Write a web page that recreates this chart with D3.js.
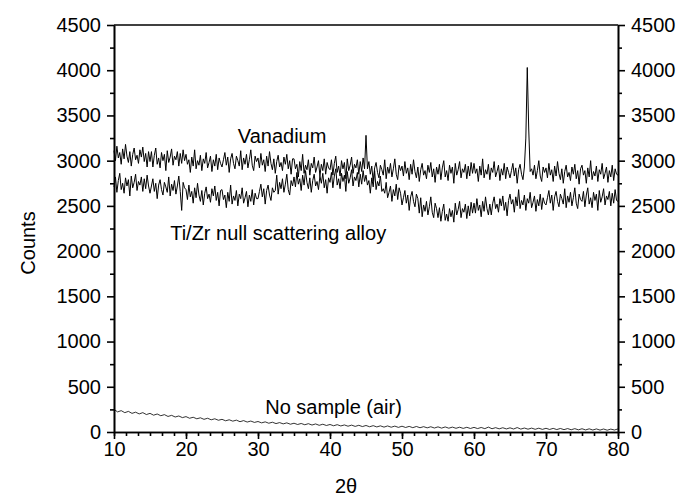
<!DOCTYPE html>
<html>
<head>
<meta charset="utf-8">
<script src="https://cdn.jsdelivr.net/npm/d3@7"></script>
<style>
  body { margin: 0; background: #fff; }
  svg text { font-family: "Liberation Sans", Arial, sans-serif; fill: #000; }
</style>
</head>
<body>
<div id="chart"></div>
<script>
// 2theta grid: sample scans every 0.2 deg, air scan every 0.5 deg, all from 10 deg
var xStart = 10, xStep = 0.2, airStep = 0.5;

var vanadium = [
  3110, 3000, 3160, 3030, 3090, 2960, 3130, 3020, 3180, 3050, 2980, 3100, 2940, 3070, 3140, 3010, 3060, 2970, 3120, 3040, 3150, 2990, 3080, 2930, 3100,
  2990, 3100, 2930, 3060, 3140, 2960, 3030, 2920, 3090, 3000, 3070, 2890, 3110, 2980, 3040, 3130, 2950, 3050, 3010, 3100, 2940, 3080, 2970, 3120, 3000,
  3070, 2960, 3010, 2870, 3040, 2940, 3120, 2910, 3000, 2950, 3060, 2890, 3020, 2970, 3090, 2920, 2980, 3050, 2880, 3010, 2940, 3070, 2900, 3030, 2970,
  2930, 3010, 3090, 2950, 3040, 2870, 3020, 3080, 2970, 2910, 3050, 3000, 2940, 3110, 2900, 3030, 2960, 3070, 2920, 3010, 3120, 2950, 2890, 3050, 2990,
  3030, 2920, 3080, 2950, 3010, 2880, 3050, 2940, 3100, 2970, 2900, 3020, 2860, 2990, 3060, 2930, 2980, 2890, 3040, 2960, 3070, 2910, 3000, 2850, 3020,
  3020, 2910, 2960, 2820, 2990, 2890, 3070, 2860, 2950, 2900, 3010, 2840, 2970, 2920, 3040, 2870, 2930, 3000, 2830, 2960, 2890, 3020, 2850, 2980, 2920,
  2900, 3010, 2840, 2970, 3050, 2870, 2940, 2830, 3000, 2910, 2980, 2800, 3020, 2890, 2950, 3040, 2860, 2960, 2920, 3010, 2850, 2990, 2880, 3030, 2910,
  3280, 2910, 2990, 2850, 2940, 2770, 2920, 2980, 2870, 2810, 2950, 2900, 2840, 3010, 2800, 2930, 2860, 2970, 2820, 2910, 3020, 2850, 2790, 2950, 2890,
  2940, 2830, 2990, 2860, 2920, 2790, 2960, 2850, 3010, 2880, 2810, 2930, 2770, 2900, 2970, 2840, 2890, 2800, 2950, 2870, 2980, 2820, 2910, 2760, 2930,
  2850, 2960, 2790, 2920, 3000, 2820, 2890, 2780, 2950, 2860, 2930, 2750, 2970, 2840, 2900, 2990, 2810, 2910, 2870, 2960, 2800, 2940, 2830, 2980, 2860,
  2970, 2860, 2910, 2770, 2940, 2840, 3020, 2810, 2900, 2850, 2960, 2790, 2920, 2870, 2990, 2820, 2880, 2950, 2780, 2910, 2840, 2970, 2800, 2930, 2870,
  2810, 2890, 2970, 2830, 2920, 2750, 2900, 2960, 2850, 2790, 2930, 3250, 4030, 3350, 2880, 2910, 2840, 2950, 2800, 2890, 3000, 2830, 2770, 2930, 2870,
  2920, 2810, 2970, 2840, 2900, 2770, 2940, 2830, 2990, 2860, 2790, 2910, 2750, 2880, 2950, 2820, 2870, 2780, 2930, 2850, 2960, 2800, 2890, 2740, 2910,
  2950, 2840, 2890, 2750, 2920, 2820, 3000, 2790, 2880, 2830, 2940, 2770, 2900, 2850, 2970, 2800, 2860, 2930, 2760, 2890, 2820, 2950, 2780, 2910, 2850,
  2840
];

var tizr = [
  2710, 2820, 2650, 2780, 2860, 2680, 2750, 2640, 2810, 2720, 2790, 2610, 2830, 2700, 2760, 2850, 2670, 2770, 2730, 2820, 2660, 2800, 2690, 2840, 2720,
  2640, 2720, 2800, 2660, 2750, 2580, 2730, 2790, 2680, 2620, 2760, 2710, 2650, 2820, 2610, 2740, 2670, 2780, 2630, 2720, 2830, 2660, 2450, 2760, 2700,
  2680, 2570, 2730, 2600, 2660, 2530, 2700, 2590, 2750, 2620, 2550, 2670, 2510, 2640, 2710, 2580, 2630, 2540, 2690, 2610, 2720, 2560, 2650, 2500, 2670,
  2680, 2570, 2620, 2480, 2650, 2550, 2730, 2520, 2610, 2560, 2670, 2500, 2630, 2580, 2700, 2530, 2590, 2660, 2490, 2620, 2550, 2680, 2510, 2640, 2580,
  2580, 2660, 2740, 2600, 2690, 2520, 2670, 2730, 2620, 2560, 2700, 2650, 2670, 2840, 2630, 2760, 2690, 2800, 2650, 2740, 2850, 2680, 2620, 2780, 2720,
  2820, 2710, 2870, 2740, 2800, 2670, 2840, 2730, 2890, 2760, 2690, 2810, 2650, 2780, 2850, 2720, 2770, 2680, 2830, 2750, 2860, 2700, 2790, 2640, 2810,
  2760, 2870, 2700, 2830, 2910, 2730, 2800, 2690, 2860, 2770, 2840, 2660, 2880, 2750, 2810, 2900, 2720, 2820, 2780, 2870, 2710, 2850, 2740, 2890, 2770,
  2840, 2730, 2780, 2640, 2810, 2710, 2890, 2680, 2770, 2720, 2830, 2660, 2690, 2640, 2760, 2590, 2650, 2720, 2550, 2680, 2610, 2740, 2570, 2700, 2640,
  2510, 2590, 2670, 2530, 2620, 2450, 2600, 2660, 2550, 2490, 2630, 2580, 2420, 2590, 2380, 2510, 2440, 2550, 2400, 2490, 2600, 2430, 2370, 2530, 2470,
  2370, 2480, 2330, 2440, 2520, 2340, 2410, 2330, 2470, 2380, 2450, 2320, 2530, 2400, 2460, 2550, 2370, 2470, 2430, 2520, 2360, 2500, 2390, 2540, 2420,
  2530, 2420, 2580, 2450, 2510, 2380, 2550, 2440, 2600, 2470, 2400, 2520, 2400, 2530, 2600, 2470, 2520, 2430, 2580, 2500, 2610, 2450, 2540, 2390, 2560,
  2630, 2520, 2570, 2430, 2600, 2500, 2680, 2470, 2560, 2510, 2620, 2450, 2580, 2530, 2650, 2480, 2540, 2610, 2440, 2570, 2500, 2630, 2460, 2590, 2530,
  2510, 2590, 2670, 2530, 2620, 2450, 2600, 2660, 2550, 2490, 2630, 2580, 2520, 2690, 2480, 2610, 2540, 2650, 2500, 2590, 2700, 2530, 2470, 2630, 2570,
  2550, 2660, 2490, 2620, 2700, 2520, 2590, 2480, 2650, 2560, 2630, 2450, 2670, 2540, 2600, 2690, 2510, 2610, 2570, 2660, 2500, 2640, 2530, 2680, 2560,
  2550
];

var air = [
  250, 222, 236, 214, 228, 206, 219, 200, 214, 193,
  206, 186, 199, 180, 192, 172, 184, 166, 177, 159,
  170, 152, 163, 146, 157, 140, 152, 135, 146, 130,
  140, 124, 135, 120, 131, 114, 126, 110, 121, 106,
  116, 101, 112, 97, 108, 93, 104, 90, 101, 86,
  97, 83, 94, 80, 92, 77, 89, 74, 86, 72,
  83, 69, 81, 67, 78, 64, 76, 62, 74, 60,
  72, 58, 70, 56, 68, 54, 67, 53, 65, 51,
  64, 50, 62, 48, 61, 47, 59, 46, 58, 44,
  57, 43, 56, 42, 54, 41, 53, 40, 52, 39,
  51, 38, 50, 37, 54, 36, 48, 35, 47, 34,
  46, 33, 49, 32, 44, 31, 43, 30, 42, 29,
  41, 28, 40, 27, 39, 26, 38, 25, 37, 24,
  36, 23, 35, 22, 34, 21, 33, 20, 32, 22,
  34
];

var xTicks = [10, 20, 30, 40, 50, 60, 70, 80];
var yTicks = [0, 500, 1000, 1500, 2000, 2500, 3000, 3500, 4000, 4500];

// curve labels: text and anchor in data units (left end of the baseline)
var labelText = ["Vanadium", "Ti/Zr null scattering alloy", "No sample (air)"];
var labelX = [27.2, 17.8, 31.0];
var labelY = [3200, 2120, 200];

var margin = {top: 25, right: 63, bottom: 68, left: 114},
    width = 681 - margin.left - margin.right,
    height = 500 - margin.top - margin.bottom;

var svg = d3.select("#chart").append("svg")
    .attr("width", 681)
    .attr("height", 500)
  .append("g")
    .attr("transform", "translate(" + margin.left + "," + margin.top + ")");

var x = d3.scaleLinear().domain([10, 80]).range([0, width]);
var y = d3.scaleLinear().domain([0, 4500]).range([height, 0]);

function toPoints(arr, step) {
    return arr.map(function(v, i) { return {x: xStart + i * step, y: v}; });
}

var line = d3.line()
    .x(function(d) { return x(d.x); })
    .y(function(d) { return y(d.y); });

// minor ticks first, majors drawn over them
var xMinor = d3.range(0, 43).map(function(i) { return 10 + i * 10 / 6; });
var yMinor = d3.range(250, 4500, 500);

svg.append("g")
    .attr("transform", "translate(0," + height + ")")
    .call(d3.axisBottom(x).tickValues(xMinor).tickFormat("").tickSizeInner(4).tickSizeOuter(0));
svg.append("g")
    .call(d3.axisLeft(y).tickValues(yMinor).tickFormat("").tickSizeInner(4).tickSizeOuter(0));
svg.append("g")
    .attr("transform", "translate(" + width + ",0)")
    .call(d3.axisRight(y).tickValues(yMinor).tickFormat("").tickSizeInner(4).tickSizeOuter(0));

svg.append("g")
    .attr("class", "x axis")
    .attr("transform", "translate(0," + height + ")")
    .call(d3.axisBottom(x).tickValues(xTicks).tickFormat(d3.format("d"))
        .tickSizeInner(7).tickSizeOuter(0).tickPadding(3));

svg.append("g")
    .attr("class", "y axis")
    .call(d3.axisLeft(y).tickValues(yTicks).tickFormat(d3.format("d"))
        .tickSizeInner(7).tickSizeOuter(0).tickPadding(6));

svg.append("g")
    .attr("class", "y axis")
    .attr("transform", "translate(" + width + ",0)")
    .call(d3.axisRight(y).tickValues(yTicks).tickFormat(d3.format("d"))
        .tickSizeInner(7).tickSizeOuter(0).tickPadding(6));

svg.selectAll(".axis text")
    .attr("font-size", 20)
    .style("font-family", "'Liberation Sans', Arial, sans-serif");
svg.selectAll(".domain, .tick line")
    .attr("stroke", "#000")
    .attr("stroke-width", 1.6);

// top frame line
svg.append("line")
    .attr("x1", 0).attr("x2", width)
    .attr("y1", 0).attr("y2", 0)
    .attr("stroke", "#000")
    .attr("stroke-width", 1.6);

svg.append("path")
    .datum(toPoints(vanadium, xStep))
    .attr("d", line)
    .attr("fill", "none")
    .attr("stroke", "#000")
    .attr("stroke-width", 1);

svg.append("path")
    .datum(toPoints(tizr, xStep))
    .attr("d", line)
    .attr("fill", "none")
    .attr("stroke", "#000")
    .attr("stroke-width", 1);

svg.append("path")
    .datum(toPoints(air, airStep))
    .attr("d", line)
    .attr("fill", "none")
    .attr("stroke", "#000")
    .attr("stroke-width", 0.8);

svg.selectAll(".curve-label")
    .data(labelText)
  .enter().append("text")
    .attr("class", "curve-label")
    .attr("x", function(d, i) { return x(labelX[i]); })
    .attr("y", function(d, i) { return y(labelY[i]); })
    .attr("font-size", 20)
    .text(function(d) { return d; });

// axis titles
svg.append("text")
    .attr("transform", "translate(" + (-79) + "," + (218) + ") rotate(-90)")
    .attr("text-anchor", "middle")
    .attr("font-size", 20)
    .text("Counts");

svg.append("text")
    .attr("x", width / 2 - 20)
    .attr("y", height + 61)
    .attr("text-anchor", "middle")
    .attr("font-size", 20)
    .text("2θ");
</script>
</body>
</html>
